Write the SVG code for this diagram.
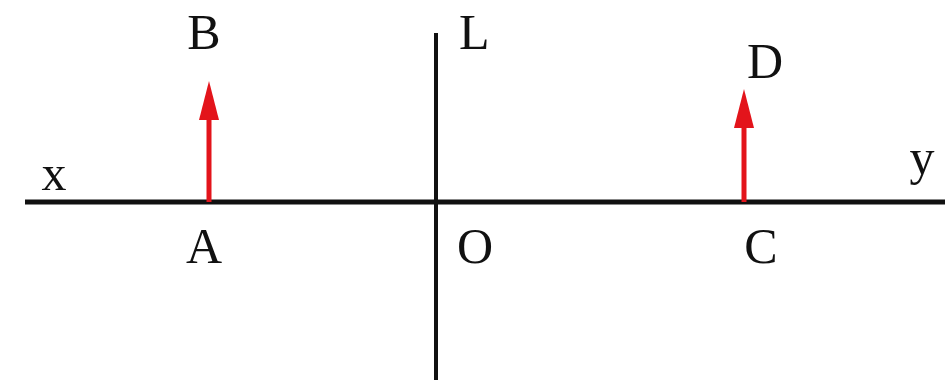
<svg xmlns="http://www.w3.org/2000/svg" width="952" height="390" viewBox="0 0 952 390">
<style>
.ax{stroke:#111;fill:none}
.red{stroke:#e3141b;stroke-width:5;fill:none}
.head{fill:#e3141b}
.t{font-family:"Liberation Serif","Times New Roman",serif;font-size:50px;fill:#111}
</style>
<rect width="952" height="390" fill="#fff"/>
<g id="connectors">
<line class="ax" x1="25" y1="202" x2="945" y2="202" stroke-width="5"/>
<line class="ax" x1="436" y1="33" x2="436" y2="380" stroke-width="4"/>
</g>
<g id="arrowAB">
<line class="red" x1="209" y1="202" x2="209" y2="112"/>
<polygon class="head" points="209,81 219,120 199,120"/>
</g>
<g id="arrowCD">
<line class="red" x1="744" y1="202" x2="744" y2="120"/>
<polygon class="head" points="744,89 754,128 734,128"/>
</g>
<g id="labels">
<text class="t" x="204" y="49" text-anchor="middle">B</text>
<text class="t" x="204" y="263" text-anchor="middle">A</text>
<text class="t" x="765" y="78" text-anchor="middle">D</text>
<text class="t" x="761" y="263" text-anchor="middle">C</text>
<text class="t" x="459" y="49">L</text>
<text class="t" x="475" y="263" text-anchor="middle">O</text>
<text class="t" x="54" y="190" text-anchor="middle">x</text>
<text class="t" x="922" y="174" text-anchor="middle">y</text>
</g>
</svg>
